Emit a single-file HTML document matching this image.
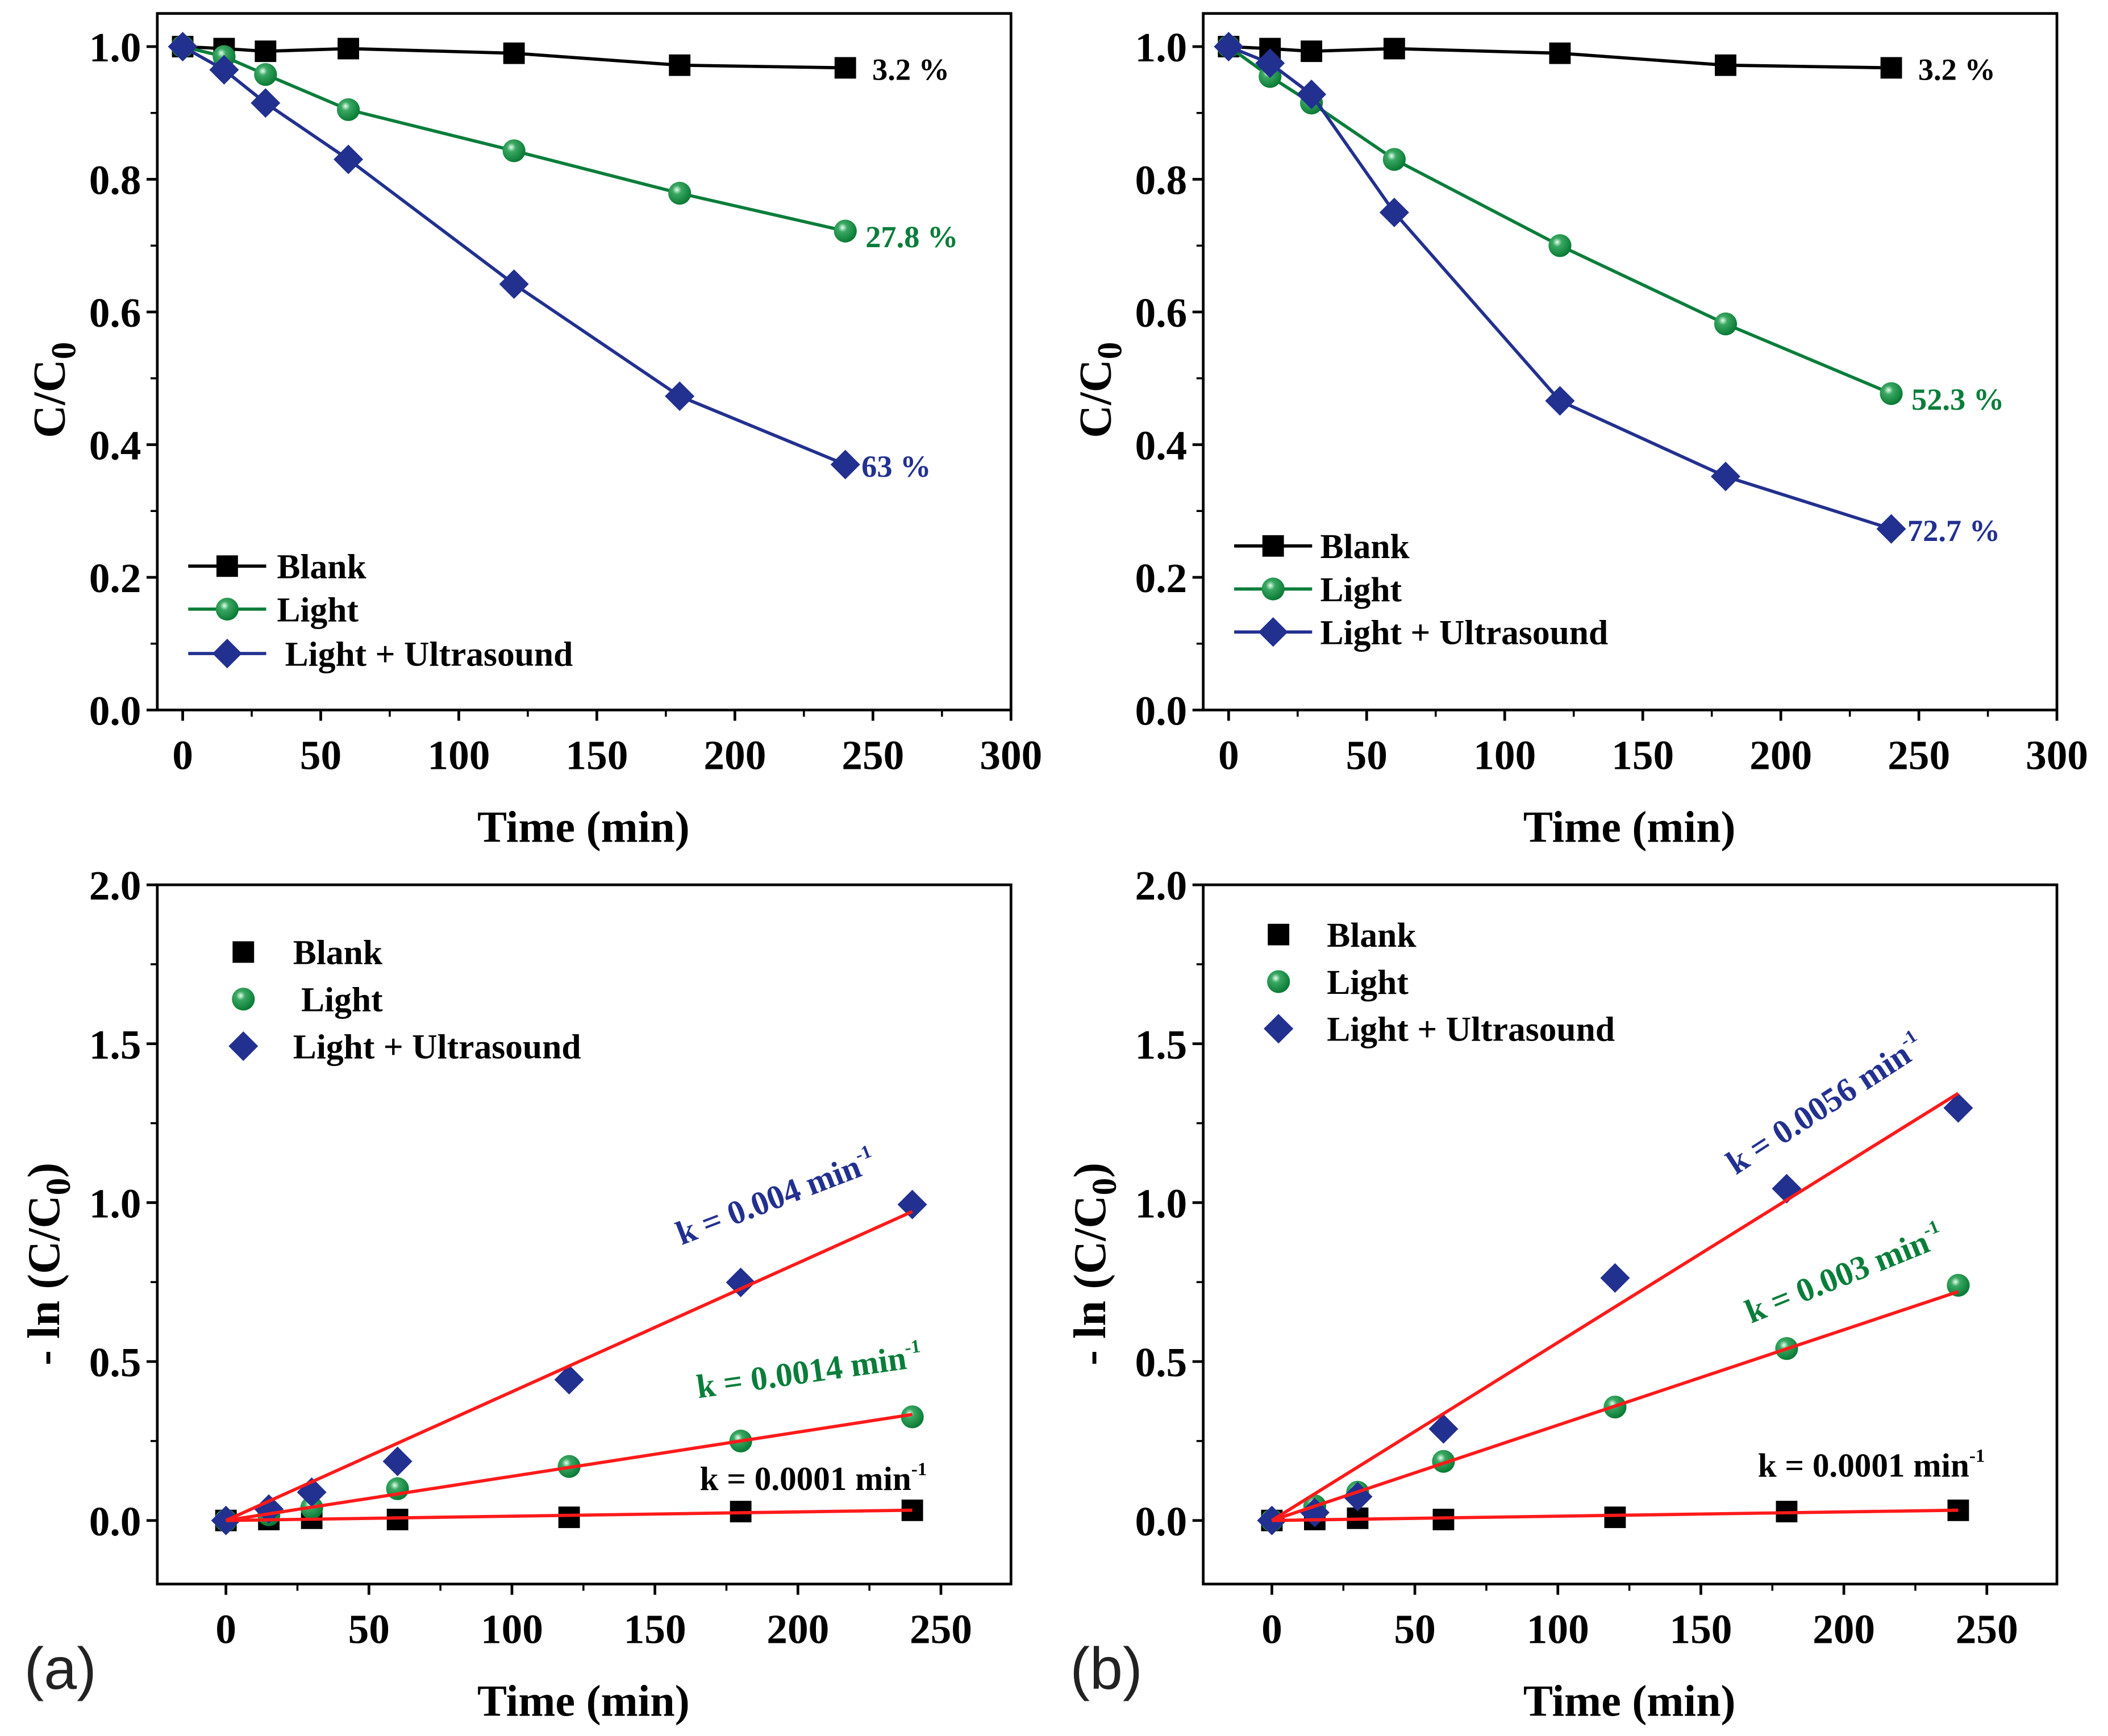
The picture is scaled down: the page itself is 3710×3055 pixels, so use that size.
<!DOCTYPE html>
<html><head><meta charset="utf-8"><style>
html,body{margin:0;padding:0;background:#fff;}
svg{display:block;font-family:"Liberation Serif",serif;font-weight:bold;}
</style></head><body>
<svg id="fig" width="3710" height="3055" viewBox="0 0 1568 1291" preserveAspectRatio="none" xmlns="http://www.w3.org/2000/svg">
<defs>
<radialGradient id="gball" cx="0.38" cy="0.35" r="0.65">
<stop offset="0" stop-color="#e8fff0"/><stop offset="0.3" stop-color="#3aa862"/><stop offset="1" stop-color="#0a7a35"/>
</radialGradient>
</defs>
</svg>
<script>
// ---- data ----
const times = [0, 15, 30, 60, 120, 180, 240];
const aBlank = [1.0, 0.997, 0.993, 0.997, 0.99, 0.972, 0.968];
const aLight = [1.0, 0.985, 0.958, 0.905, 0.843, 0.779, 0.722];
const aLU = [1.0, 0.965, 0.915, 0.830, 0.642, 0.473, 0.370];
const bBlank = [1.0, 0.997, 0.993, 0.997, 0.99, 0.972, 0.968];
const bLight = [1.0, 0.955, 0.915, 0.830, 0.700, 0.582, 0.477];
const bLU = [1.0, 0.975, 0.928, 0.750, 0.466, 0.352, 0.273];
const cBlank = [0, 0.003, 0.007, 0.003, 0.010, 0.028, 0.032];
const cLight = [0, 0.018, 0.040, 0.100, 0.170, 0.250, 0.326];
const cLU = [0, 0.036, 0.089, 0.186, 0.443, 0.749, 0.994];
const dBlank = [0, 0.003, 0.007, 0.003, 0.010, 0.028, 0.032];
const dLight = [0, 0.046, 0.089, 0.186, 0.357, 0.541, 0.740];
const dLU = [0, 0.025, 0.075, 0.288, 0.763, 1.044, 1.298];
const cSlopes = [0.000135, 0.00139, 0.00405];
const dSlopes = [0.000135, 0.0030, 0.0056];
const topXTicks = [0, 50, 100, 150, 200, 250, 300];
const topYTicks = [0.0, 0.2, 0.4, 0.6, 0.8, 1.0];
const botXTicks = [0, 50, 100, 150, 200, 250];
const botYTicks = [0.0, 0.5, 1.0, 1.5, 2.0];

const NS = "http://www.w3.org/2000/svg";
const svg = document.getElementById("fig");
const BLK = "#000", GRN = "#0a7d3a", BLU = "#22308f", RED = "#ff1a1a";

function mk(tag, attrs, parent) {
  const e = document.createElementNS(NS, tag);
  for (const k in attrs) e.setAttribute(k, attrs[k]);
  (parent || svg).appendChild(e);
  return e;
}
function txt(str, x, y, size, fill, anchor, parent) {
  const t = mk("text", {x: x, y: y, "font-size": size, fill: fill, "text-anchor": anchor || "start"}, parent);
  t.textContent = str;
  return t;
}
function axes(box, xd, yd) {
  return {
    x: v => box.x0 + (v - xd[0]) / (xd[1] - xd[0]) * (box.x1 - box.x0),
    y: v => box.y1 - (v - yd[0]) / (yd[1] - yd[0]) * (box.y1 - box.y0)
  };
}
function marker(kind, cx, cy, g) {
  let m;
  if (kind === "sq") m = mk("rect", {x: cx - 8, y: cy - 8, width: 16, height: 16, fill: BLK}, g);
  else if (kind === "ci") m = mk("circle", {cx: cx, cy: cy, r: 8.5, fill: "url(#gball)"}, g);
  else m = mk("polygon", {points: `${cx},${cy-11} ${cx+11},${cy} ${cx},${cy+11} ${cx-11},${cy}`, fill: BLU}, g);
  return m;
}
function frame(box, ax, xt, yt, xMinor, yMinor, g, yFmt) {
  const r = mk("rect", {x: box.x0, y: box.y0, width: box.x1 - box.x0, height: box.y1 - box.y0, fill: "none", stroke: "#000", "stroke-width": 2}, g);
  
  
  xt.forEach(v => {
    const X = ax.x(v);
    mk("line", {x1: X, y1: box.y1, x2: X, y2: box.y1 + 8, stroke: "#000", "stroke-width": 2}, g);
    const t = txt(String(v), X, box.y1 + 44, 31, "#000", "middle", g);
    
    
  });
  xMinor.forEach(v => { const X = ax.x(v); mk("line", {x1: X, y1: box.y1, x2: X, y2: box.y1 + 5, stroke: "#000", "stroke-width": 1.5}, g); });
  yt.forEach(v => {
    const Y = ax.y(v);
    mk("line", {x1: box.x0 - 8, y1: Y, x2: box.x0, y2: Y, stroke: "#000", "stroke-width": 2}, g);
    const t = txt(yFmt(v), box.x0 - 12, Y + 11, 31, "#000", "end", g);
    
    
  });
  yMinor.forEach(v => { const Y = ax.y(v); mk("line", {x1: box.x0 - 5, y1: Y, x2: box.x0, y2: Y, stroke: "#000", "stroke-width": 1.5}, g); });
}

// ---------- top panels ----------
function topPanel(ox, blank, light, lu, pcts, legY, legTxtX, name) {
  const g = mk("g", {});
  
  
  const box = {x0: 117 + ox, x1: 752 + ox, y0: 10, y1: 528};
  const ax = axes(box, [-9.2, 300], [0, 1.05]);
  frame(box, ax, topXTicks, topYTicks, [25, 75, 125, 175, 225, 275], [0.1, 0.3, 0.5, 0.7, 0.9], g, v => v.toFixed(1));
  const series = [[blank, BLK, "sq", "blank"], [light, GRN, "ci", "light"], [lu, BLU, "di", "light-ultrasound"]];
  series.forEach(([d, c, k, n]) => {
    const pl = mk("polyline", {points: times.map((t, i) => ax.x(t) + "," + ax.y(d[i])).join(" "), fill: "none", stroke: c, "stroke-width": 2.4}, g);
    
    
    times.forEach((t, i) => {
      const m = marker(k, ax.x(t), ax.y(d[i]), g);
      
      
    });
  });
  const p1 = txt(pcts[0], ax.x(240) + 20, ax.y(blank[6]) + 9, 23, BLK, "start", g);
  
  
  const p2 = txt(pcts[1], ax.x(240) + 15, ax.y(light[6]) + 12, 23, GRN, "start", g);
  
  
  const p3 = txt(pcts[2], ax.x(240) + 12, ax.y(lu[6]) + 9, 23, BLU, "start", g);
  
  
  const labels = ["Blank", "Light", "Light + Ultrasound"];
  series.forEach(([d, c, k, n], i) => {
    const y = legY[i];
    mk("line", {x1: box.x0 + 23, y1: y, x2: box.x0 + 81, y2: y, stroke: c, "stroke-width": 2.4}, g);
    marker(k, box.x0 + 52, y, g);
    const t = txt(labels[i], legTxtX[i] + ox, y + 9, 26, "#000", "start", g);
    
    
  });
  const yt = txt("", 0, 0, 34, "#000", "middle", g);
  yt.setAttribute("transform", `translate(${48 + ox},290) rotate(-90)`);
  yt.innerHTML = 'C/C<tspan dy="8" font-size="26">0</tspan>';
  
  
  const xt = txt("Time (min)", 434 + ox, 626, 33, "#000", "middle", g);
  
  
}
topPanel(0, aBlank, aLight, aLU, ["3.2 %", "27.8 %", "63 %"], [421, 453, 486], [206, 206, 212], "panel-a-top");
topPanel(778, bBlank, bLight, bLU, ["3.2 %", "52.3 %", "72.7 %"], [406, 438, 470], [204, 204, 204], "panel-b-top");

// ---------- bottom panels ----------
function botPanel(ox, blank, light, lu, slopes, kLabels, legY, lightX, name, tag) {
  const g = mk("g", {});
  
  
  const box = {x0: 117 + ox, x1: 752 + ox, y0: 658, y1: 1178};
  const ax = axes(box, [-24, 274.5], [-0.2, 2.0]);
  frame(box, ax, botXTicks, botYTicks, [25, 75, 125, 175, 225], [0.25, 0.75, 1.25, 1.75], g, v => v.toFixed(1));
  const series = [[blank, BLK, "sq", "blank"], [light, GRN, "ci", "light"], [lu, BLU, "di", "light-ultrasound"]];
  series.forEach(([d, c, k, n]) => {
    times.forEach((t, i) => {
      const m = marker(k, ax.x(t), ax.y(d[i]), g);
      
      
    });
  });
  slopes.forEach((s, i) => {
    const l = mk("line", {x1: ax.x(0), y1: ax.y(0), x2: ax.x(240), y2: ax.y(s * 240), stroke: RED, "stroke-width": 2.4}, g);
    
    
  });
  kLabels.forEach(([str, c, x, y, rot], i) => {
    const t = txt("", 0, 0, 25, c, "middle", g);
    t.setAttribute("transform", `translate(${x + ox},${y}) rotate(${rot})`);
    t.innerHTML = str + '<tspan dy="-11" font-size="14">-1</tspan>';
    
    
  });
  const labels = ["Blank", "Light", "Light + Ultrasound"];
  series.forEach(([d, c, k, n], i) => {
    marker(k, ox ? 951 : 181, legY[i], g);
    const t = txt(labels[i], (i === 1 ? lightX : (ox ? 209 : 218)) + ox, legY[i] + 9, 26, "#000", "start", g);
    
    
  });
  const yt = txt("", 0, 0, 34, "#000", "middle", g);
  yt.setAttribute("transform", `translate(${44 + ox},940) rotate(-90)`);
  yt.innerHTML = '- ln (C/C<tspan dy="8" font-size="26">0</tspan><tspan dy="-8">)</tspan>';
  
  
  const xt = txt("Time (min)", 434 + ox, 1276, 33, "#000", "middle", g);
  
  
  const pl = mk("text", {x: 18 + ox, y: 1256, "font-size": 44, "font-weight": "normal", fill: "#222", "font-family": "Liberation Sans, sans-serif"}, g);
  pl.textContent = tag;
  
  
}
botPanel(0, cBlank, cLight, cLU, cSlopes,
  [["k = 0.0001 min", BLK, 605, 1108, 0], ["k = 0.0014 min", GRN, 603, 1028, -8], ["k = 0.004 min", BLU, 580, 898, -21]],
  [708, 743, 778], 224, "panel-a-bottom", "(a)");
botPanel(778, dBlank, dLight, dLU, dSlopes,
  [["k = 0.0001 min", BLK, 614, 1098, 0], ["k = 0.003 min", GRN, 597, 955, -22], ["k = 0.0056 min", BLU, 584, 828, -33]],
  [695, 730, 765], 209, "panel-b-bottom", "(b)");
</script>
</body></html>
